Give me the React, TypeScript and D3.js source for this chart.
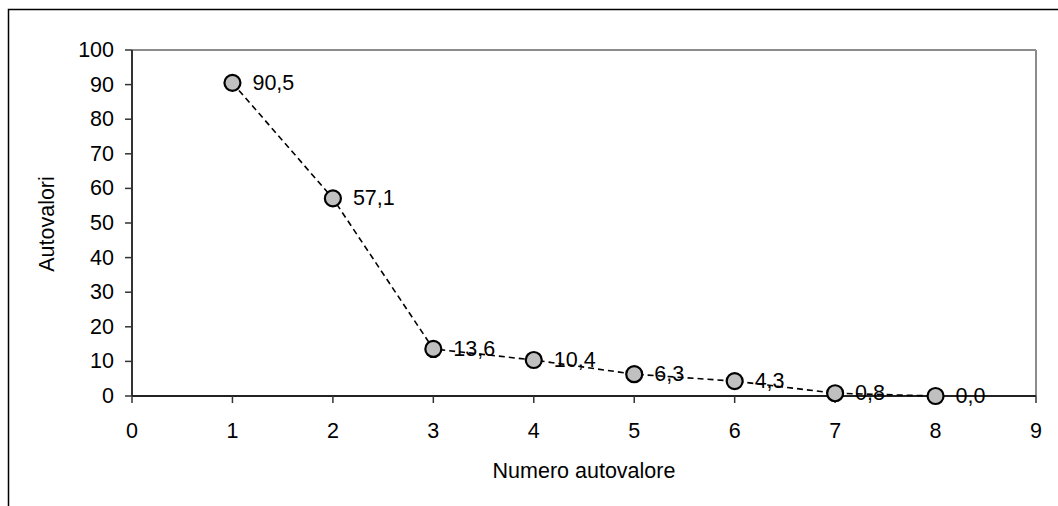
import React from "react";
import * as d3 from "d3";

const xValues = [1, 2, 3, 4, 5, 6, 7, 8];
const yValues = [90.5, 57.1, 13.6, 10.4, 6.3, 4.3, 0.8, 0.0];
const xTicks = [0, 1, 2, 3, 4, 5, 6, 7, 8, 9];
const yTicks = [0, 10, 20, 30, 40, 50, 60, 70, 80, 90, 100];
const xTitle = "Numero autovalore";
const yTitle = "Autovalori";

const W = 1058;
const H = 506;
const M = { left: 132, top: 50, right: 1036, bottom: 396 };
const FONT = "Arial, 'Liberation Sans', sans-serif";
const FS = 21.5;

function T({ x, y, anchor = "middle", children, rotate = 0 }: any) {
  return (
    <g transform={`translate(${x},${y}) rotate(${rotate})`}>
      <text
        textAnchor={anchor}
        dominantBaseline="central"
        fontFamily={FONT}
        fontSize={FS}
        fill="#000"
      >
        {children}
      </text>
    </g>
  );
}

export default function App() {
  const x = d3.scaleLinear().domain([0, 9]).range([M.left, M.right]);
  const y = d3.scaleLinear().domain([0, 100]).range([M.bottom, M.top]);
  const line = d3
    .line<number>()
    .x((_, i) => x(xValues[i]))
    .y((d) => y(d));
  const fmt = (v: number) => v.toFixed(1).replace(".", ",");

  return (
    <svg
      width={W}
      height={H}
      style={{ position: "absolute", left: 0, top: 0, background: "#fff" }}
    >
      <rect x={0} y={0} width={W} height={H} fill="#fff" />
      <rect x={8.5} y={9.5} width={W + 20} height={H + 20} fill="none" stroke="#000" strokeWidth={1.5} />
      <line x1={M.left} y1={M.top} x2={M.right} y2={M.top} stroke="#8c8c8c" strokeWidth={2} />
      <line x1={M.right} y1={M.top} x2={M.right} y2={M.bottom} stroke="#8c8c8c" strokeWidth={2} />
      <line x1={M.left} y1={M.top} x2={M.left} y2={M.bottom} stroke="#333" strokeWidth={2} />
      <line x1={M.left} y1={M.bottom} x2={M.right} y2={M.bottom} stroke="#222" strokeWidth={2} />
      {yTicks.map((t) => (
        <g key={"y" + t}>
          <line x1={M.left - 7} x2={M.left} y1={y(t)} y2={y(t)} stroke="#333" strokeWidth={1.5} />
          <T x={M.left - 18} y={y(t)} anchor="end">{t}</T>
        </g>
      ))}
      {xTicks.map((t) => (
        <g key={"x" + t}>
          <line x1={x(t)} x2={x(t)} y1={M.bottom} y2={M.bottom + 7} stroke="#333" strokeWidth={1.5} />
          <T x={x(t)} y={M.bottom + 35}>{t}</T>
        </g>
      ))}
      <path d={line(yValues) || ""} fill="none" stroke="#000" strokeWidth={1.6} strokeDasharray="6,4" />
      {yValues.map((v, i) => (
        <circle key={"c" + i} cx={x(xValues[i])} cy={y(v)} r={8} fill="#c0c0c0" stroke="#000" strokeWidth={2.2} />
      ))}
      {yValues.map((v, i) => (
        <T key={"l" + i} x={x(xValues[i]) + 20} y={y(v)} anchor="start">{fmt(v)}</T>
      ))}
      <T x={584} y={471}>{xTitle}</T>
      <T x={47} y={224} rotate={-90}>{yTitle}</T>
    </svg>
  );
}
